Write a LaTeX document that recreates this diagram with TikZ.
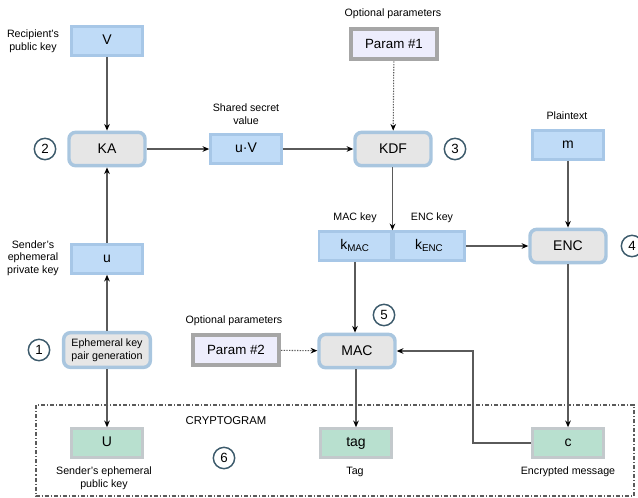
\documentclass[tikz,border=0pt]{standalone}
\usepackage{fontspec}
\setmainfont{Liberation Sans}
\usetikzlibrary{arrows.meta,positioning}
\definecolor{keyfill}{HTML}{BFDBF7}
\definecolor{keyedge}{HTML}{A7C7E7}
\definecolor{opfill}{HTML}{E6E6E6}
\definecolor{opedge}{HTML}{A9C6DF}
\definecolor{parfill}{HTML}{EDEDFC}
\definecolor{paredge}{HTML}{A6A6A6}
\definecolor{outfill}{HTML}{B8E0CF}
\definecolor{outedge}{HTML}{C3C9CC}
\definecolor{numedge}{HTML}{3C5A6B}
\definecolor{flowgray}{HTML}{5A5A5A}
\tikzset{
  keybox/.style={draw=keyedge, fill=keyfill, line width=2.2pt, minimum width=53pt, minimum height=21.5pt, inner sep=0pt, text height=7.6pt, text depth=2.4pt, font=\fontsize{10.5}{12}\selectfont},
  outbox/.style={keybox, draw=outedge, fill=outfill},
  opbox/.style={draw=opedge, fill=opfill, line width=2.6pt, rounded corners=5pt, minimum width=57pt, minimum height=25pt, inner sep=0pt, font=\fontsize{10.5}{12}\selectfont},
  genbox/.style={opbox, minimum width=65pt, minimum height=26pt, align=center, font=\fontsize{8}{10}\selectfont},
  parbox/.style={draw=paredge, fill=parfill, line width=3pt, minimum width=64.5pt, minimum height=23pt, inner sep=0pt, font=\fontsize{10}{12}\selectfont},
  stepnum/.style={circle, draw=numedge, line width=1.1pt, minimum size=16pt, inner sep=0pt, font=\fontsize{10}{12}\selectfont},
  lbl/.style={font=\fontsize{8}{9.5}\selectfont, align=center, inner sep=0pt},
  flow/.style={-{Stealth[length=5pt, width=4.2pt, color=black]}, draw=flowgray, line width=0.8pt},
  optflow/.style={flow, dash pattern=on 1pt off 1pt},
  cryptframe/.style={draw=flowgray, line width=0.8pt, dash pattern=on 3pt off 1.5pt on 0.8pt off 1.5pt},
}
\begin{document}
\begin{tikzpicture}[x=0.75pt,y=-0.75pt]
  \useasboundingbox (0,0) rectangle (638,497);
  % key agreement column
  \node[keybox] (V) at (107,41) {V};
  \node[lbl] (Vlbl) at (33,41) {Recipient's\\public key};
  \node[opbox] (KA) at (107,149) {KA};
  \node[stepnum] (n2) at (45,149) {2};
  \node[keybox] (u) at (107,259) {u};
  \node[lbl] (ulbl) at (33,258) {Sender's\\ephemeral\\private key};
  \node[genbox] (gen) at (107,350) {Ephemeral key\\pair generation};
  \node[stepnum] (n1) at (39,350) {1};
  % shared secret and kdf
  \node[keybox] (uV) at (246,149) {u·V};
  \node[lbl] (uVlbl) at (246,114) {Shared secret\\value};
  \node[opbox] (KDF) at (393,149) {KDF};
  \node[stepnum] (n3) at (455,149) {3};
  \node[parbox] (par1) at (394,44) {Param \#1};
  \node[lbl] (par1lbl) at (393,14) {Optional parameters};
  % derived keys
  \node[keybox, minimum width=54pt] (kmac) at (355,246) {k\textsubscript{MAC}};
  \node[keybox, minimum width=53pt, right=0pt of kmac] (kenc) {k\textsubscript{ENC}};
  \node[lbl] (kmaclbl) at (355,218) {MAC key};
  \node[lbl] (kenclbl) at (432,218) {ENC key};
  % encryption
  \node[keybox] (m) at (568,145) {m};
  \node[lbl] (mlbl) at (567,116) {Plaintext};
  \node[opbox] (ENC) at (568,246) {ENC};
  \node[stepnum] (n4) at (632,246) {4};
  % mac
  \node[opbox] (MAC) at (357,351) {MAC};
  \node[stepnum] (n5) at (384,315) {5};
  \node[parbox] (par2) at (236,350) {Param \#2};
  \node[lbl] (par2lbl) at (234,321) {Optional parameters};
  % cryptogram
  \draw[cryptframe] (36,405) rectangle (634,496);
  \node[lbl, font=\fontsize{8.5}{10}\selectfont] (cglbl) at (226,421) {CRYPTOGRAM};
  \node[outbox] (U) at (107,443) {U};
  \node[lbl] (Ulbl) at (104,478) {Sender's ephemeral\\public key};
  \node[stepnum] (n6) at (224,458) {6};
  \node[outbox] (tag) at (356,443) {tag};
  \node[lbl] (taglbl) at (355,472) {Tag};
  \node[outbox] (c) at (568,443) {c};
  \node[lbl] (clbl) at (568,472) {Encrypted message};
  \coordinate (cturn) at (473,443);
  % connectors
  \draw[flow] (V) -- (KA);
  \draw[flow] (u) -- (KA);
  \draw[flow] (gen) -- (u);
  \draw[flow] (gen) -- (U);
  \draw[flow] (KA) -- (uV);
  \draw[flow] (uV) -- (KDF);
  \draw[optflow] (par1) -- (KDF);
  \draw[flow] (KDF.south -| kmac.north east) -- (kmac.north east);
  \draw[flow] (kenc) -- (ENC);
  \draw[flow] (m) -- (ENC);
  \draw[flow] (ENC) -- (c);
  \draw[flow] (kmac) -- (kmac |- MAC.north);
  \draw[optflow] (par2) -- (MAC);
  \draw[flow] (MAC.south -| tag) -- (tag);
  \draw[flow] (c) -- (cturn) |- (MAC.east);
\end{tikzpicture}
\end{document}
